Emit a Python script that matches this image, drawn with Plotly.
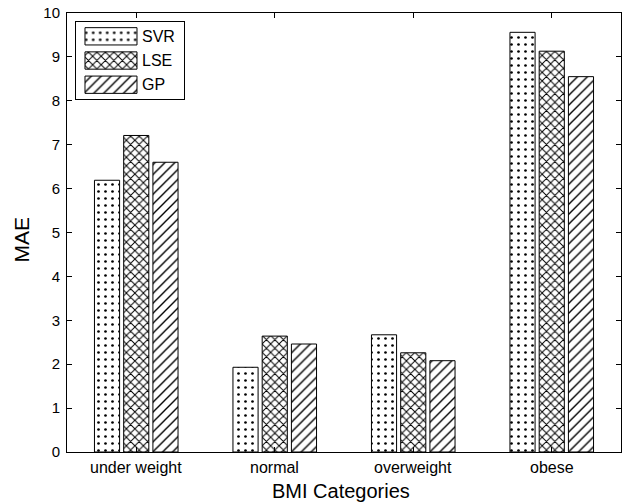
import plotly.graph_objects as go

categories = ["under weight", "normal", "overweight", "obese"]
svr = [6.19, 1.93, 2.67, 9.56]
lse = [7.21, 2.64, 2.26, 9.13]
gp = [6.60, 2.46, 2.08, 8.55]
series_names = ["SVR", "LSE", "GP"]
y_ticks = list(range(0, 11))
x_title = "BMI Categories"
y_title = "MAE"

patterns = [
    dict(shape=".", size=7, solidity=0.12, fgcolor="black", bgcolor="white"),
    dict(shape="x", size=6, solidity=0.3, fgcolor="black", bgcolor="white"),
    dict(shape="/", size=7, solidity=0.2, fgcolor="black", bgcolor="white"),
]

x_pos = list(range(1, len(categories) + 1))
FONT = "Liberation Sans, Arial, sans-serif"

fig = go.Figure()
for name, vals, pat in zip(series_names, [svr, lse, gp], patterns):
    fig.add_trace(go.Bar(
        x=x_pos, y=vals, name=name, showlegend=False,
        marker=dict(color="white", pattern=pat,
                    line=dict(color="black", width=1)),
    ))

# category labels below the axis
for xp, cat in zip(x_pos, categories):
    fig.add_annotation(x=xp, y=0, xref="x", yref="paper", text=cat,
                       showarrow=False, xanchor="center", yanchor="top",
                       yshift=-5, font=dict(size=16, family=FONT, color="black"))

# axis titles
fig.add_annotation(x=0.494, y=0, xref="paper", yref="paper", text=x_title,
                   showarrow=False, xanchor="center", yanchor="top",
                   yshift=-26, font=dict(size=20, family=FONT, color="black"))
fig.add_annotation(x=-0.082, y=0.483, xref="paper", yref="paper", text=y_title,
                   showarrow=False, xanchor="center", yanchor="middle",
                   textangle=-90, font=dict(size=21, family=FONT, color="black"))

# custom legend drawn on an inset axis (box in inset units)
BOX_W = 108.6
SW_START, SW_LEN = 9.3, 52.0
TEXT_X = 64.0
for i, (name, pat) in enumerate(zip(series_names, patterns)):
    fig.add_trace(go.Bar(
        y=[i], x=[SW_LEN], base=[SW_START], orientation="h", width=0.715,
        xaxis="x2", yaxis="y2", showlegend=False, hoverinfo="skip",
        marker=dict(color="white", pattern=pat,
                    line=dict(color="black", width=1)),
    ))
    fig.add_annotation(x=TEXT_X, y=i, xref="x2", yref="y2", text=name,
                       showarrow=False, xanchor="left", yanchor="middle",
                       font=dict(size=16, family=FONT, color="black"))

fig.update_layout(
    template="none",
    width=625, height=504,
    margin=dict(l=67, r=4, t=13, b=52, autoexpand=False),
    paper_bgcolor="white", plot_bgcolor="white",
    barmode="group", bargap=0.367, bargroupgap=0.14,
    font=dict(family=FONT, size=15, color="black"),
    showlegend=False,
    xaxis=dict(range=[0.5, 4.5], tickmode="array", tickvals=x_pos,
               showticklabels=False, ticks="inside", ticklen=5,
               tickcolor="black",
               showline=True, linecolor="black", linewidth=1, mirror="ticks",
               showgrid=False, zeroline=False, automargin=False),
    yaxis=dict(range=[0, 10], tickmode="array", tickvals=y_ticks,
               ticks="inside", ticklen=5, ticklabelstandoff=3,
               tickcolor="black",
               showline=True, linecolor="black", linewidth=1, mirror="ticks",
               showgrid=False, zeroline=False, automargin=False,
               tickfont=dict(size=15)),
    xaxis2=dict(domain=[0.0157, 0.2117], anchor="y2", range=[0, BOX_W],
                showline=True, linecolor="black", linewidth=1, mirror=True,
                showticklabels=False, ticks="", showgrid=False, zeroline=False,
                fixedrange=True, automargin=False),
    yaxis2=dict(domain=[0.8034, 0.9788], anchor="x2", range=[2.603, -0.579],
                showline=True, linecolor="black", linewidth=1, mirror=True,
                showticklabels=False, ticks="", showgrid=False, zeroline=False,
                fixedrange=True, automargin=False),
)

fig.write_html("out.html", config={"displayModeBar": False},
               post_script="document.body.style.margin='0';document.body.style.padding='0';")
